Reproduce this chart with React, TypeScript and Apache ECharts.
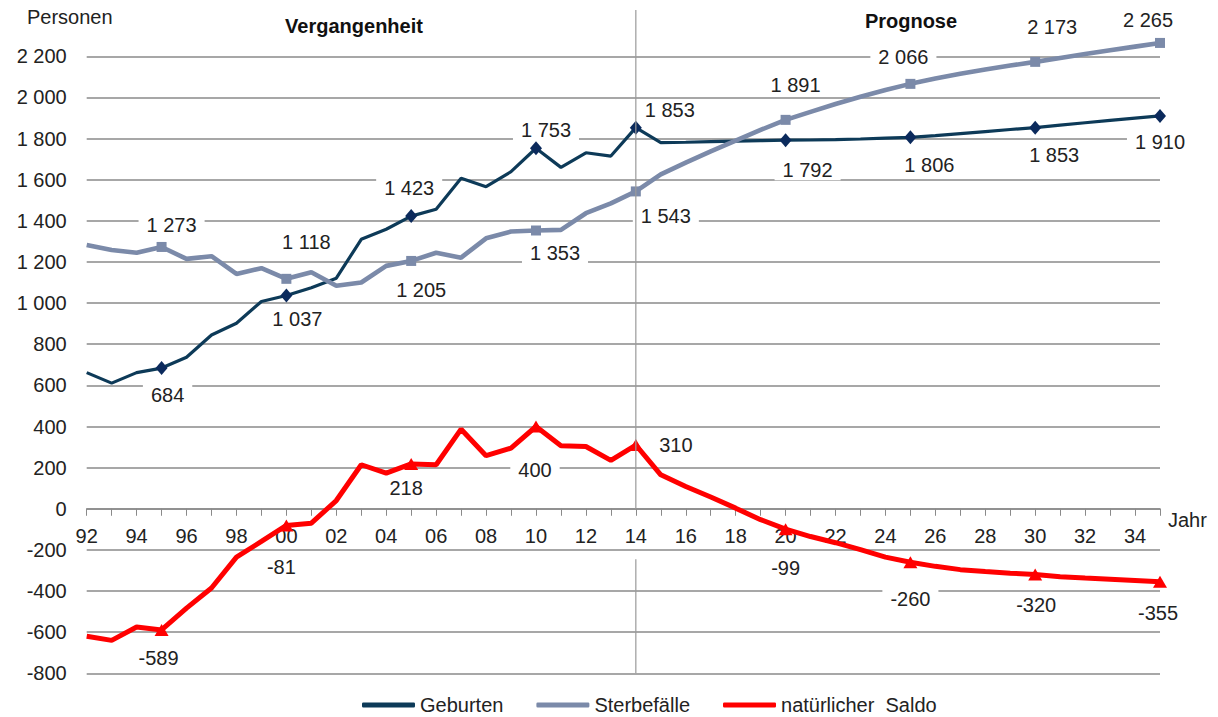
import React, { useEffect, useRef } from "react";
import * as echarts from "echarts";

const years = [
  "92", "93", "94", "95", "96", "97", "98", "99", "00", "01",
  "02", "03", "04", "05", "06", "07", "08", "09", "10", "11",
  "12", "13", "14", "15", "16", "17", "18", "19", "20", "21",
  "22", "23", "24", "25", "26", "27", "28", "29", "30", "31",
  "32", "33", "34", "35",
];

const geburten = [
  662, 611, 662, 684, 737, 845, 902, 1008, 1037, 1075,
  1121, 1310, 1359, 1423, 1456, 1607, 1566, 1639, 1753, 1660,
  1731, 1715, 1853, 1780, 1782, 1785, 1788, 1790, 1792, 1793,
  1795, 1798, 1802, 1806, 1814, 1824, 1834, 1844, 1853, 1865,
  1877, 1888, 1899, 1910,
];

const sterbefaelle = [
  1283, 1258, 1245, 1273, 1215, 1228, 1142, 1170, 1118, 1150,
  1084, 1100, 1181, 1205, 1245, 1221, 1315, 1348, 1353, 1356,
  1437, 1485, 1543, 1626, 1683, 1738, 1790, 1842, 1891, 1930,
  1968, 2003, 2036, 2066, 2092, 2115, 2136, 2155, 2173, 2192,
  2211, 2229, 2247, 2265,
];

const saldo = [
  -620, -640, -575, -589, -483, -385, -235, -159, -81, -70,
  40, 214, 173, 218, 214, 387, 258, 295, 400, 306,
  303, 235, 310, 165, 108, 57, 3, -53, -99, -135,
  -165, -199, -235, -260, -280, -296, -305, -313, -320, -330,
  -337, -343, -349, -355,
];

const seriesNames = ["Geburten", "Sterbefälle", "natürlicher  Saldo"];

// indices of points that carry a marker and a value label
const labeledIdx = [3, 8, 13, 18, 22, 28, 33, 38, 43];

// label offsets (px) relative to the point, in labeledIdx order
const geburtenOffsets = [[6, 27], [11, 24], [-2, -28], [10, -18], [34, -18], [22, 30], [19, 28], [19, 27], [0, 26]];
const sterbeOffsets = [[10, -22], [20, -37], [10, 29], [19, 23], [30, 25], [10, -35], [-7, -27], [17, -35], [-12, -23]];
const saldoOffsets = [[-3, 28], [-5, 42], [-5, 24], [-1, 43], [40, 0], [0, 39], [0, 37], [1, 30], [-2, 31]];

const FONT = "'Liberation Sans', Arial, sans-serif";
const TEXT = "#222";

function fmt(v: number): string {
  const s = Math.abs(v).toString();
  const t = s.length > 3 ? s.slice(0, s.length - 3) + " " + s.slice(-3) : s;
  return (v < 0 ? "-" : "") + t;
}

function buildData(values: number[], offsets: number[][]) {
  return values.map((v, i) => {
    const k = labeledIdx.indexOf(i);
    if (k < 0) return { value: v, symbol: "none", label: { show: false } };
    return {
      value: v,
      label: { show: true, position: "inside", offset: offsets[k] },
    };
  });
}

const labelStyle = {
  fontSize: 20,
  fontFamily: FONT,
  color: TEXT,
  backgroundColor: "#fff",
  padding: [0, 8],
  formatter: (p: any) => fmt(p.value),
};

export default function App() {
  const ref = useRef<HTMLDivElement>(null);

  useEffect(() => {
    if (!ref.current) return;
    const chart = echarts.init(ref.current, undefined, { renderer: "svg" });
    const option: any = {
      animation: false,
      grid: { left: 86.7, right: 58, top: 56.3, bottom: 43.7 },
      legend: {
        left: 357,
        top: 690,
        itemWidth: 53,
        itemHeight: 5,
        itemGap: 33,
        icon: "roundRect",
        textStyle: { fontSize: 20, fontFamily: FONT, color: TEXT },
        data: [
          { name: seriesNames[0], itemStyle: { color: "#0d3a58" } },
          { name: seriesNames[1], itemStyle: { color: "#7b8aa9" } },
          { name: seriesNames[2], itemStyle: { color: "#ff0000" } },
        ],
      },
      xAxis: {
        type: "category",
        data: years,
        boundaryGap: false,
        axisLine: { onZero: false, lineStyle: { color: "#8a8a8a", width: 1.5 } },
        axisTick: { show: true, interval: 0, length: 7, lineStyle: { color: "#8a8a8a", width: 1 } },
        axisLabel: { interval: 1, margin: 17, fontSize: 20, fontFamily: FONT, color: TEXT },
        splitLine: { show: false },
      },
      yAxis: {
        type: "value",
        min: -800,
        max: 2200,
        interval: 200,
        axisLine: { show: false },
        axisTick: { show: false },
        axisLabel: { margin: 20, fontSize: 20, fontFamily: FONT, color: TEXT, formatter: (v: number) => fmt(v) },
        splitLine: { show: true, lineStyle: { color: "#8a8a8a", width: 1.5 } },
      },
      series: [
        {
          name: seriesNames[0],
          type: "line",
          clip: false,
          symbol: "diamond",
          symbolSize: [12, 14],
          showSymbol: true,
          itemStyle: { color: "#0b2a5c" },
          lineStyle: { color: "#0d3a58", width: 3.2 },
          label: labelStyle,
          data: buildData(geburten, geburtenOffsets),
          z: 2,
        },
        {
          name: seriesNames[1],
          type: "line",
          clip: false,
          symbol: "rect",
          symbolSize: 10,
          showSymbol: true,
          itemStyle: { color: "#7b8aa9" },
          lineStyle: { color: "#7b8aa9", width: 4.6 },
          label: labelStyle,
          data: buildData(sterbefaelle, sterbeOffsets),
          z: 3,
        },
        {
          name: seriesNames[2],
          type: "line",
          clip: false,
          symbol: "triangle",
          symbolSize: [14, 12],
          showSymbol: true,
          itemStyle: { color: "#ff0000" },
          lineStyle: { color: "#ff0000", width: 5 },
          label: labelStyle,
          data: buildData(saldo, saldoOffsets),
          z: 4,
        },
      ],
    };
    chart.setOption(option);

    const x14 = chart.convertToPixel({ xAxisIndex: 0 }, "14") as number;
    const yTop = chart.convertToPixel({ yAxisIndex: 0 }, 2425) as number;
    const yZero = chart.convertToPixel({ yAxisIndex: 0 }, 0) as number;
    const yGap = chart.convertToPixel({ yAxisIndex: 0 }, -245) as number;
    const yBot = chart.convertToPixel({ yAxisIndex: 0 }, -800) as number;
    const xEnd = chart.convertToPixel({ xAxisIndex: 0 }, "35") as number;

    chart.setOption({
      xAxis: { offset: -(yBot - yZero) },
      graphic: [
        {
          type: "line",
          z: 100,
          shape: { x1: x14, y1: yTop, x2: x14, y2: yZero },
          style: { stroke: "#9a9a9a", lineWidth: 1.2 },
        },
        {
          type: "line",
          z: 100,
          shape: { x1: x14, y1: yGap, x2: x14, y2: yBot },
          style: { stroke: "#9a9a9a", lineWidth: 1.2 },
        },
        {
          type: "text",
          left: 27,
          top: 7,
          style: { text: "Personen", fontSize: 20, fontFamily: FONT, fill: TEXT },
        },
        {
          type: "text",
          x: 354,
          y: 26,
          style: { text: "Vergangenheit", fontSize: 20, fontWeight: "bold", fontFamily: FONT, fill: "#111", align: "center", verticalAlign: "middle" },
        },
        {
          type: "text",
          x: 911,
          y: 21,
          style: { text: "Prognose", fontSize: 20, fontWeight: "bold", fontFamily: FONT, fill: "#111", align: "center", verticalAlign: "middle" },
        },
        {
          type: "text",
          x: xEnd + 8,
          y: yZero + 11,
          style: { text: "Jahr", fontSize: 20, fontFamily: FONT, fill: TEXT, align: "left", verticalAlign: "middle" },
        },
      ],
    });

    return () => chart.dispose();
  }, []);

  return (
    <div
      ref={ref}
      style={{ position: "absolute", left: 0, top: 0, width: 1218, height: 717 }}
    />
  );
}
